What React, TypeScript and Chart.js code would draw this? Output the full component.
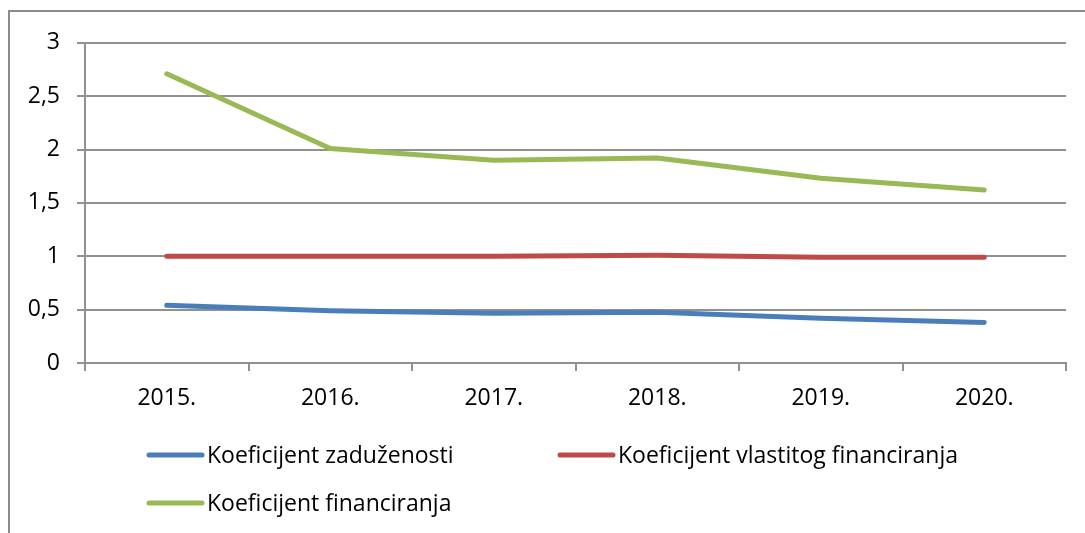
import React, { useEffect, useRef } from "react";
import { Chart, registerables } from "chart.js";

Chart.register(...registerables);

const categories = ["2015.", "2016.", "2017.", "2018.", "2019.", "2020."];
const zaduzenosti = [0.54, 0.49, 0.465, 0.475, 0.42, 0.38];
const vlastitogFinanciranja = [1.0, 1.0, 1.0, 1.01, 0.99, 0.99];
const financiranja = [2.71, 2.01, 1.9, 1.92, 1.73, 1.62];
const seriesLabels = [
  "Koeficijent zaduženosti",
  "Koeficijent vlastitog financiranja",
  "Koeficijent financiranja",
];
const seriesColors = ["#4A7EBB", "#BE4B48", "#98B954"];

const FONT = "'Open Sans', sans-serif";
const AXIS = "#919191";

const legendPlugin = {
  id: "customLegend",
  afterDraw(chart: any) {
    const ctx = chart.ctx;
    const items = [
      { i: 0, x: 137, y: 443 },
      { i: 1, x: 548, y: 443 },
      { i: 2, x: 137, y: 491 },
    ];
    ctx.save();
    for (const it of items) {
      const ds = chart.data.datasets[it.i];
      ctx.strokeStyle = ds.borderColor;
      ctx.lineWidth = 5;
      ctx.lineCap = "round";
      ctx.beginPath();
      ctx.moveTo(it.x + 2, it.y);
      ctx.lineTo(it.x + 55, it.y);
      ctx.stroke();
      ctx.fillStyle = "#000";
      ctx.font = `23px ${FONT}`;
      ctx.textBaseline = "middle";
      ctx.textAlign = "left";
      ctx.fillText(ds.label, it.x + 60, it.y + 1);
    }
    ctx.restore();
  },
};

export default function App() {
  const ref = useRef<HTMLCanvasElement | null>(null);
  useEffect(() => {
    if (!ref.current) return;
    const mk = (label: string, data: number[], color: string) => ({
      label,
      data,
      borderColor: color,
      backgroundColor: color,
      borderWidth: 5,
      pointRadius: 0,
      tension: 0,
      borderCapStyle: "round" as const,
      borderJoinStyle: "round" as const,
    });
    const chart = new Chart(ref.current, {
      type: "line",
      data: {
        labels: categories,
        datasets: [
          mk(seriesLabels[0], zaduzenosti, seriesColors[0]),
          mk(seriesLabels[1], vlastitogFinanciranja, seriesColors[1]),
          mk(seriesLabels[2], financiranja, seriesColors[2]),
        ],
      },
      options: {
        animation: false,
        responsive: false,
        layout: { padding: { left: 0, top: 26, right: 19, bottom: 120 } },
        plugins: { legend: { display: false }, tooltip: { enabled: false } },
        scales: {
          x: {
            offset: true,
            afterFit(scale: any) {
              scale.height = 50;
            },
            grid: {
              offset: true,
              drawOnChartArea: false,
              drawTicks: true,
              tickLength: 8,
              color: AXIS,
              lineWidth: 2,
            },
            border: { display: true, color: AXIS, width: 2 },
            ticks: {
              color: "#000",
              font: { family: FONT, size: 23 },
              padding: 14,
              maxRotation: 0,
            },
          },
          y: {
            min: 0,
            max: 3,
            afterFit(scale: any) {
              scale.width = 75;
            },
            grid: { color: AXIS, lineWidth: 2, tickLength: 8, drawTicks: true },
            border: { display: true, color: AXIS, width: 2 },
            ticks: {
              stepSize: 0.5,
              color: "#000",
              font: { family: FONT, size: 23 },
              padding: 17,
              callback: (v: any) => String(v).replace(".", ","),
            },
          },
        },
      },
      plugins: [legendPlugin],
    });
    return () => chart.destroy();
  }, []);
  return (
    <div
      style={{
        position: "absolute",
        left: 8,
        top: 10,
        width: 1075,
        height: 521,
        borderLeft: "2px solid #8c8c8c",
        borderTop: "2px solid #8c8c8c",
        background: "#fff",
      }}
    >
      <canvas ref={ref} width={1075} height={521} style={{ display: "block", width: 1075, height: 521 }} />
    </div>
  );
}
